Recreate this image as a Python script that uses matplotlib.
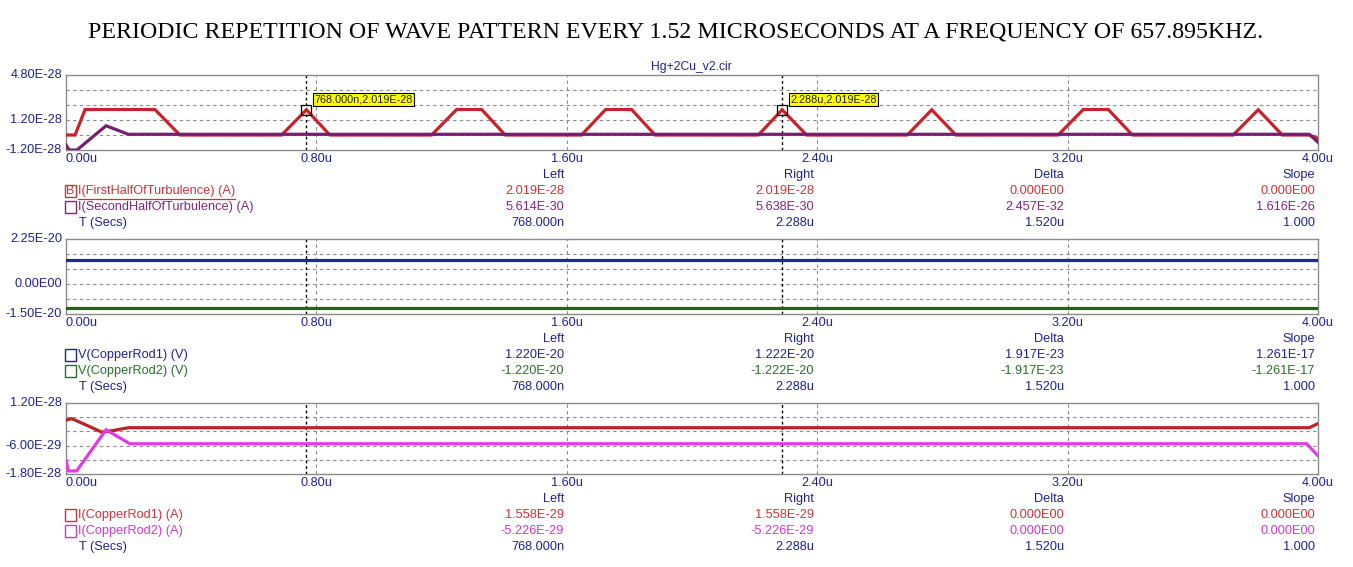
import matplotlib
matplotlib.use("Agg")
import matplotlib.pyplot as plt
from matplotlib.patches import Rectangle
from matplotlib.lines import Line2D

# ---------------- data ----------------
# top panel (time in microseconds, currents in units of 1E-28 A)
t_first = [0, 0.029, 0.061, 0.284, 0.364, 0.689, 0.768, 0.843, 1.168, 1.248, 1.328, 1.403,
           1.647, 1.724, 1.807, 1.882, 2.212, 2.288, 2.366, 2.688, 2.766, 2.843,
           3.170, 3.250, 3.330, 3.407, 3.729, 3.809, 3.886, 3.972, 4.0]
i_first = [0, 0, 2.04, 2.04, 0, 0, 2.019, 0, 0, 2.04, 2.04, 0,
           0, 2.04, 2.04, 0, 0, 2.019, 0, 0, 2.019, 0,
           0, 2.04, 2.04, 0, 0, 2.019, 0, 0, -0.27]
t_second = [0, 0.010, 0.035, 0.128, 0.199, 3.972, 4.0]
i_second = [-0.8, -1.2, -1.2, 0.74, 0.056, 0.056, -0.58]

# middle panel (volts, units of 1E-20 V)
t_v = [0, 4.0]
v_rod1 = [1.22, 1.22]
v_rod2 = [-1.22, -1.22]

# bottom panel (units of 1E-28 A)
t_rod1 = [0, 0.018, 0.066, 0.114, 0.151, 0.199, 3.972, 4.0]
i_rod1 = [0.47, 0.54, 0.26, -0.03, 0.04, 0.1558, 0.1558, 0.33]
t_rod2 = [0, 0.008, 0.034, 0.128, 0.204, 3.964, 4.0]
i_rod2 = [-1.24, -1.67, -1.67, 0.07, -0.5226, -0.5226, -1.03]

cursor_left = 0.768
cursor_right = 2.288
x_ticks = [0, 0.8, 1.6, 2.4, 3.2, 4.0]
x_tick_labels = ["0.00u", "0.80u", "1.60u", "2.40u", "3.20u", "4.00u"]

col_heads = ["Left", "Right", "Delta", "Slope"]

top_rows = [
    ("I(FirstHalfOfTurbulence) (A)", ["2.019E-28", "2.019E-28", "0.000E00", "0.000E00"]),
    ("I(SecondHalfOfTurbulence) (A)", ["5.614E-30", "5.638E-30", "2.457E-32", "1.616E-26"]),
    ("T (Secs)", ["768.000n", "2.288u", "1.520u", "1.000"]),
]
mid_rows = [
    ("V(CopperRod1) (V)", ["1.220E-20", "1.222E-20", "1.917E-23", "1.261E-17"]),
    ("V(CopperRod2) (V)", ["-1.220E-20", "-1.222E-20", "-1.917E-23", "-1.261E-17"]),
    ("T (Secs)", ["768.000n", "2.288u", "1.520u", "1.000"]),
]
bot_rows = [
    ("I(CopperRod1) (A)", ["1.558E-29", "1.558E-29", "0.000E00", "0.000E00"]),
    ("I(CopperRod2) (A)", ["-5.226E-29", "-5.226E-29", "0.000E00", "0.000E00"]),
    ("T (Secs)", ["768.000n", "2.288u", "1.520u", "1.000"]),
]

# ---------------- style ----------------
W, H = 1353, 567
NAVY = "#22228a"
RED = "#c8222c"
PURPLE = "#75206f"
BLUE = "#1c2a98"
GREEN = "#1e641e"
BRED = "#b82428"
MAGENTA = "#e03ce0"
RED_T = "#c8343c"
PURPLE_T = "#7a2a78"
GREEN_T = "#2c6c2c"
MAG_T = "#c83cc8"
FONT = "Liberation Sans"
FS = 9.2

plt.rcParams["font.family"] = [FONT, "DejaVu Sans"]
fig = plt.figure(figsize=(W / 100, H / 100), dpi=100)
fig.patch.set_facecolor("white")

def fx(x):
    return x / W

def fy(y):
    return 1 - y / H

fig.text(fx(676), fy(32), "PERIODIC REPETITION OF WAVE PATTERN EVERY 1.52 MICROSECONDS AT A FREQUENCY OF 657.895KHZ.",
         ha="center", va="center", fontsize=17.2, family="Liberation Serif", color="black")
fig.text(fx(691), fy(67), "Hg+2Cu_v2.cir", ha="center", va="center", fontsize=8.7, color=NAVY)


def panel(top, bottom, ylim, grid_vals, ylabels, series, rows, row_colors, box_colors, scale):
    ax = fig.add_axes([fx(66), fy(bottom), fx(1318) - fx(66), (bottom - top) / H])
    ax.set_xlim(0, 4.0)
    ax.set_ylim(ylim[0] * scale, ylim[1] * scale)
    for s in ax.spines.values():
        s.set_color("#8a8a8a")
        s.set_linewidth(1.0)
    ax.set_xticks([])
    ax.set_yticks([])
    for g in grid_vals:
        ax.axhline(g * scale, color="#8a8a8a", lw=0.8, ls=(0, (3, 3)), zorder=1)
    for xt in x_ticks[1:-1]:
        ax.axvline(xt, color="#8a8a8a", lw=0.8, ls=(0, (3, 3)), zorder=1)
    for c in (cursor_left, cursor_right):
        ax.axvline(c, color="black", lw=1.0, ls=(0, (2, 2)), zorder=2)
    for t, v, col in series:
        ax.plot(t, [vv * scale for vv in v], color=col, lw=2.3, zorder=3, solid_joinstyle="miter")
    # y labels
    for val, lab in ylabels:
        yy = top + (ylim[1] - val) / (ylim[1] - ylim[0]) * (bottom - top)
        fig.text(fx(62), fy(yy), lab, ha="right", va="center", fontsize=FS, color=NAVY)
    # x labels
    for xt, lab in zip(x_ticks, x_tick_labels):
        xx = 66 + xt / 4.0 * 1252
        ha = "left" if xt == 0 else "center"
        fig.text(fx(xx), fy(bottom + 8.5), lab, ha=ha, va="center", fontsize=FS, color=NAVY)
    # cursor table
    cols_x = [564, 814, 1064, 1315]
    for cx, h in zip(cols_x, col_heads):
        fig.text(fx(cx), fy(bottom + 25), h, ha="right", va="center", fontsize=FS, color=NAVY)
    for i, (name, vals) in enumerate(rows):
        yy = bottom + 41 + 16 * i
        col = row_colors[i]
        if i < 2:
            fig.patches.append(Rectangle((fx(64.5), fy(yy + 6)), 11.5 / W, 12 / H, transform=fig.transFigure,
                                         fill=False, edgecolor=box_colors[i], lw=1.0))
            fig.text(fx(77.5), fy(yy), name, ha="left", va="center", fontsize=FS, color=col)
        else:
            fig.text(fx(79), fy(yy), name, ha="left", va="center", fontsize=FS, color=col)
        for cx, v in zip(cols_x, vals):
            fig.text(fx(cx), fy(yy), v, ha="right", va="center", fontsize=FS, color=col)
    return ax


ax1 = panel(75, 150, (-1.2, 4.8), [0, 1.2, 2.4, 3.6],
            [(4.8, "4.80E-28"), (1.2, "1.20E-28"), (-1.2, "-1.20E-28")],
            [(t_first, i_first, RED), (t_second, i_second, PURPLE)],
            top_rows, [RED_T, PURPLE_T, NAVY], [RED_T, PURPLE_T], 1e-28)
ax2 = panel(239, 314, (-1.5, 2.25), [-0.75, 0, 0.75, 1.5],
            [(2.25, "2.25E-20"), (0, "0.00E00"), (-1.5, "-1.50E-20")],
            [(t_v, v_rod1, BLUE), (t_v, v_rod2, GREEN)],
            mid_rows, [NAVY, GREEN_T, NAVY], [NAVY, GREEN_T], 1e-20)
ax3 = panel(403, 474, (-1.8, 1.2), [-1.2, -0.6, 0, 0.6],
            [(1.2, "1.20E-28"), (-0.6, "-6.00E-29"), (-1.8, "-1.80E-28")],
            [(t_rod1, i_rod1, BRED), (t_rod2, i_rod2, MAGENTA)],
            bot_rows, [RED_T, MAG_T, NAVY], [RED_T, MAG_T], 1e-28)

# "B" marker in first legend box and underline of first legend entry
fig.text(fx(70.3), fy(191), "B", ha="center", va="center", fontsize=8.7, color=RED_T)
fig.lines.append(Line2D([fx(77.5), fx(235)], [fy(198.5), fy(198.5)], transform=fig.transFigure, color=RED_T, lw=0.9))

# cursor readout markers on the top panel
for c, lab in ((cursor_left, "768.000n,2.019E-28"), (cursor_right, "2.288u,2.019E-28")):
    ax1.plot([c], [2.019e-28], marker="s", ms=6.5, mfc="none", mec="black", mew=0.9, zorder=5)
    ax1.annotate(lab, (c, 2.019e-28), xytext=(8, 10), textcoords="offset pixels",
                 ha="left", va="center", fontsize=7.8, color="#202020", zorder=6,
                 bbox=dict(boxstyle="square,pad=0.15", fc="#ffff00", ec="black", lw=0.8))

fig.savefig("out.png", dpi=100, facecolor="white")
